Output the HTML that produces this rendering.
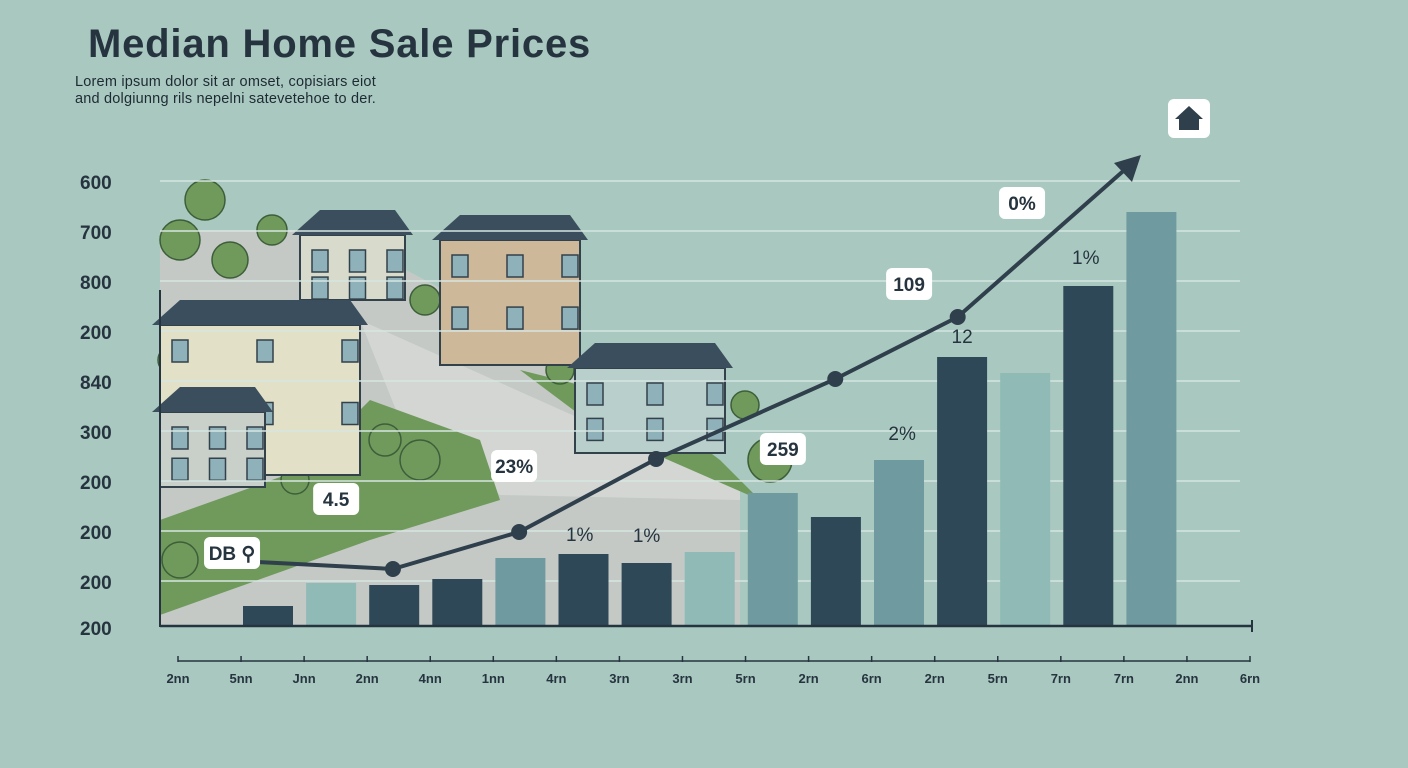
<!DOCTYPE html>
<html><head><meta charset="utf-8"><style>
body{margin:0;width:1408px;height:768px;background:#a9c9c0;font-family:"Liberation Sans",sans-serif;overflow:hidden;position:relative}
h1{position:absolute;left:88px;top:22px;margin:0;font-size:40px;font-weight:bold;color:#26343f;letter-spacing:0.8px}
.sub{position:absolute;left:75px;top:74px;font-size:14.5px;line-height:17px;color:#1e2a33;letter-spacing:0.2px}
svg{position:absolute;left:0;top:0}
</style></head><body>
<h1>Median Home Sale Prices</h1>
<div class="sub">Lorem ipsum dolor sit ar omset, copisiars eiot<br>and dolgiunng rils nepelni satevetehoe to der.</div>
<svg id="c" width="1408" height="768"></svg>
<script>
const categories=["2nn","5nn","Jnn","2nn","4nn","1nn","4rn","3rn","3rn","5rn","2rn","6rn","2rn","5rn","7rn","7rn","2nn","6rn"];
const yTickLabels=["200","200","200","200","200","300","840","200","800","700","600"];
const barValues=[20,43,41,47,68,72,63,74,133,109,166,269,253,340,414];
const barShades=[0,2,0,0,1,0,0,2,1,0,1,0,2,0,1];
const lineIdx=[-0.16,1.98,3.98,6.15,8.99,10.93];
const lineValues=[64,57,94,167,247,309];
const annotations=[["DB ⚲",-0.57,73,true],["4.5",1.08,127,true],["23%",3.9,160,true],["1%",4.94,92,false],["1%",6.0,91,false],["259",8.16,177,true],["2%",10.05,193,false],["12",11.0,290,false],["109",10.16,342,true],["1%",12.96,369,false],["0%",11.95,423,true]];
const NS="http://www.w3.org/2000/svg",svg=document.getElementById('c');
function mk(t,a,p){const e=document.createElementNS(NS,t);for(const k in a)e.setAttribute(k,a[k]);(p||svg).appendChild(e);return e;}
const x0=160,pitch=63.1,base=626;
const xs=i=>x0+83+i*pitch+25;
const ys=v=>base-v;
// illustration
const ill=mk('g',{});


mk('polygon',{points:"160,230 160,626 740,626 740,495 520,330 330,230",fill:"#c4c9c6"},ill);
mk('polygon',{points:"360,320 740,490 740,500 500,495 470,470 400,420",fill:"#d3d6d2"},ill);
mk('polygon',{points:"160,615 370,540 500,500 480,440 370,400 300,470 160,520",fill:"#6f9a5b"},ill);
mk('polygon',{points:"520,370 600,430 760,500 720,460 640,400",fill:"#6f9a5b"},ill);
[[205,200,20],[180,240,20],[272,230,15],[230,260,18],[425,300,15],[470,330,16],[560,370,14],[600,410,14],[745,405,14],[770,460,22],[420,460,20],[385,440,16],[172,360,14],[180,560,18],[295,480,14]].forEach(t=>mk('circle',{cx:t[0],cy:t[1],r:t[2],fill:"#6f9a5b",stroke:"#3e5e3a","stroke-width":1.5},ill));
function house(x,y,w,h,fill){mk('rect',{x:x,y:y,width:w,height:h,fill:fill,stroke:"#33414a","stroke-width":2},ill);mk('polygon',{points:`${x-8},${y} ${x+20},${y-25} ${x+w-10},${y-25} ${x+w+8},${y}`,fill:"#3b4e5d"},ill);
for(let i=0;i<3;i++)for(let j=0;j<2;j++)mk('rect',{x:x+12+i*(w-30)/2,y:y+15+j*h/2.4,width:16,height:22,fill:"#8fb2ba",stroke:"#33414a","stroke-width":1.5},ill);}
house(300,235,105,65,"#d8dacc");house(440,240,140,125,"#cdb99a");house(160,325,200,150,"#e2e0c6");house(160,412,105,75,"#c9cfc9");house(575,368,150,85,"#b8cfcb");
// grid
[181,231,281,331,381,431,481,531,581].forEach(y=>{const l=mk('line',{x1:160,x2:1240,y1:y,y2:y,stroke:"#d6e6e1","stroke-width":1.5});});
yTickLabels.slice(0,10).forEach((t,i)=>{const e=mk('text',{x:80,y:i==0?635:589-(i-1)*50,"font-size":19,"font-weight":"bold",fill:"#26343f"});e.textContent=yTickLabels[i==0?0:i+1]||t;});
// bars
const shades=["#2f4858","#6e9aa0","#90bab6"];
barValues.forEach((v,i)=>{const b=mk('rect',{x:xs(i)-25,y:ys(v),width:50,height:v,fill:shades[barShades[i]]});});
mk('line',{x1:160,x2:1253,y1:626,y2:626,stroke:"#26343f","stroke-width":2.5});
mk('line',{x1:160,x2:160,y1:290,y2:627,stroke:"#26343f","stroke-width":2});
mk('line',{x1:1252,x2:1252,y1:620,y2:632,stroke:"#26343f","stroke-width":2});
// x axis
mk('line',{x1:178,x2:1250,y1:661,y2:661,stroke:"#26343f","stroke-width":1.5});
categories.forEach((c,i)=>{const x=178+i*(1072/17);mk('line',{x1:x,x2:x,y1:656,y2:662,stroke:"#26343f","stroke-width":1.5});const t=mk('text',{x:x,y:683,"font-size":13,"font-weight":"bold",fill:"#26343f","text-anchor":"middle"});t.textContent=c;});
// line
const pts=lineIdx.map((k,i)=>[xs(k),ys(lineValues[i])]);
const endX=1138,endY=158;
const path=mk('polyline',{points:pts.map(p=>p.join(',')).join(' ')+` ${endX},${endY}`,fill:"none",stroke:"#2f3f4c","stroke-width":4});

mk('polygon',{points:`${endX+3},${endY-3} ${endX-24},${endY+5} ${endX-6},${endY+24}`,fill:"#2f3f4c"});
pts.slice(1).forEach(p=>{const c=mk('circle',{cx:p[0],cy:p[1],r:8,fill:"#2f3f4c"});});
// annotations
annotations.forEach(a=>{const x=xs(a[1]),y=ys(a[2]);if(a[3]){const w=a[0].length>3?56:46;const r=mk('rect',{x:x-w/2,y:y-16,width:w,height:32,rx:6,fill:"#fff"});}
const t=mk('text',{x:x,y:y+7,"font-size":19,"font-weight":a[3]?"bold":"normal",fill:"#26343f","text-anchor":"middle"});t.textContent=a[0];});
// home icon
const hb=mk('rect',{x:1168,y:99,width:42,height:39,rx:6,fill:"#fff"});
mk('polygon',{points:"1175,119 1189,106 1203,119 1199,119 1199,130 1179,130 1179,119",fill:"#2f3f4c"});
</script>
</body></html>
